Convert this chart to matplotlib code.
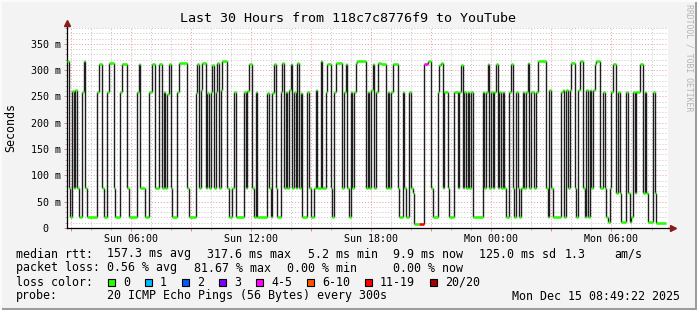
"""
Smokeping style latency graph: last 30 hours, median rtt with loss colours.
"""

import datetime as dt

import matplotlib
matplotlib.use("Agg")
import matplotlib.pyplot as plt
import matplotlib.dates as mdates
import matplotlib.ticker as mticker
from matplotlib.patches import Rectangle
from matplotlib.lines import Line2D

START = dt.datetime(2025, 12, 14, 2, 49, 22)
SPAN_HOURS = 30
LAST_MIN = 1795

# (minutes after START, new median rtt in ms) - one list per 5 hour block
block1 = [(0, 317), (5, 76), (10, 21), (15, 260), (20, 76), (25, 262), (30, 76),
          (35, 21), (45, 258), (50, 317), (55, 76), (60, 21), (90, 258), (95, 311),
          (105, 76), (110, 21), (120, 258), (125, 314), (140, 76), (145, 21),
          (160, 258), (165, 312), (180, 76), (185, 21), (210, 258), (215, 311),
          (220, 76), (235, 21), (245, 258), (255, 311), (265, 76), (275, 311),
          (285, 76)]
block2 = [(290, 258), (295, 76), (300, 255), (305, 311), (310, 76), (315, 21),
          (330, 258), (335, 314), (360, 76), (365, 21), (385, 256), (390, 311),
          (395, 76), (400, 262), (405, 314), (415, 76), (420, 256), (425, 76),
          (430, 258), (435, 310), (440, 76), (445, 258), (450, 314), (455, 76),
          (460, 262), (465, 317), (480, 76), (485, 21), (495, 76), (500, 258),
          (505, 21), (530, 258), (535, 76), (540, 260), (545, 311), (555, 76),
          (560, 21), (565, 258), (570, 21)]
block3 = [(600, 256), (605, 76), (610, 21), (615, 256), (620, 311), (625, 76),
          (630, 21), (640, 258), (645, 314), (650, 76), (655, 258), (660, 76),
          (665, 262), (670, 311), (675, 76), (680, 258), (685, 76), (690, 314),
          (695, 76), (700, 256), (705, 21), (720, 258), (725, 76), (730, 21),
          (740, 76), (745, 262), (750, 76), (760, 317), (765, 76), (775, 258),
          (780, 311), (790, 76), (795, 21), (800, 258), (805, 314), (825, 76),
          (830, 258), (835, 311), (840, 76), (845, 21), (850, 258), (855, 76),
          (860, 258), (865, 314), (870, 317)]
block4 = [(895, 76), (900, 258), (905, 76), (910, 262), (915, 311), (920, 76),
          (925, 258), (930, 314), (940, 312), (955, 76), (960, 258), (965, 76),
          (970, 258), (975, 311), (990, 76), (995, 21), (1005, 258), (1010, 76),
          (1015, 21), (1025, 258), (1030, 76), (1035, 66), (1040, 8), (1055, 7),
          (1070, 311), (1080, 317), (1090, 76), (1095, 21), (1110, 258),
          (1115, 310), (1120, 314), (1125, 76), (1130, 258), (1140, 76),
          (1145, 21), (1160, 258), (1170, 76), (1175, 258), (1180, 310),
          (1185, 76)]
block5 = [(1190, 258), (1195, 76), (1200, 258), (1205, 76), (1210, 258),
          (1215, 21), (1245, 258), (1250, 76), (1255, 258), (1260, 311),
          (1265, 76), (1270, 258), (1275, 76), (1280, 258), (1285, 311),
          (1290, 76), (1295, 258), (1300, 76), (1305, 258), (1310, 76),
          (1315, 21), (1325, 258), (1330, 311), (1335, 76), (1340, 21),
          (1345, 258), (1350, 76), (1355, 21), (1360, 76), (1365, 258),
          (1370, 76), (1375, 258), (1380, 314), (1385, 76), (1390, 258),
          (1400, 76), (1405, 258), (1410, 317), (1435, 76), (1440, 21),
          (1445, 262), (1450, 76), (1455, 21), (1480, 258), (1485, 262)]
block6 = [(1490, 21), (1495, 262), (1500, 76), (1505, 262), (1510, 314),
          (1520, 76), (1525, 21), (1530, 262), (1535, 317), (1545, 76),
          (1550, 21), (1555, 262), (1560, 21), (1565, 262), (1570, 76),
          (1575, 262), (1580, 312), (1585, 317), (1595, 76), (1605, 258),
          (1610, 76), (1615, 21), (1620, 12), (1625, 76), (1630, 258),
          (1635, 311), (1645, 66), (1650, 258), (1655, 66), (1660, 12),
          (1675, 258), (1680, 66), (1685, 12), (1690, 21), (1695, 258),
          (1700, 66), (1705, 258), (1715, 311), (1725, 66), (1730, 258),
          (1735, 66), (1740, 12), (1755, 258), (1760, 66), (1765, 10)]

# samples that lost pings (minute after START, lost pings out of 20)
loss_min = [1055, 1070]
loss_pings = [16, 4]

loss_labels = ["0", "1", "2", "3", "4-5", "6-10", "11-19", "20/20"]
loss_upper = [0, 1, 2, 3, 5, 10, 19, 20]
loss_colors = ["#26ff00", "#00b8ff", "#0059ff", "#7e00ff",
               "#ff00ff", "#ff5500", "#ff0000", "#a10000"]

rtt_avg, rtt_max, rtt_min, rtt_now, rtt_sd, rtt_ams = 157.3, 317.6, 5.2, 9.9, 125.0, 1.3
loss_avg, loss_max, loss_min_pct, loss_now = 0.56, 81.67, 0.00, 0.00

MONO = "DejaVu Sans Mono"
W, H = 697, 310


def fx(px):
    return px / W


def fy(py):
    return 1 - py / H


def loss_color(pings):
    for upper, col in zip(loss_upper, loss_colors):
        if pings <= upper:
            return col
    return loss_colors[-1]


steps = block1 + block2 + block3 + block4 + block5 + block6
change_min = [s[0] for s in steps]
median_ms = [s[1] for s in steps]

fig = plt.figure(figsize=(W / 100, H / 100), dpi=100, facecolor="#f3f3f3")
ax = fig.add_axes([fx(67), fy(228), fx(601), 200 / H])
ax.set_facecolor("white")

# median line: black verticals, loss-coloured horizontals
times = [START + dt.timedelta(minutes=m) for m in change_min]
ends = times[1:] + [START + dt.timedelta(minutes=LAST_MIN)]
seg_colors = []
for m in change_min:
    if m in loss_min:
        seg_colors.append(loss_color(loss_pings[loss_min.index(m)]))
    else:
        seg_colors.append(loss_colors[0])

ax.vlines(times[1:], median_ms[:-1], median_ms[1:], color="#1e1e1e", lw=1.0, zorder=3)
ax.hlines(median_ms, times, ends, colors=seg_colors, lw=1.9, zorder=4)

# axes / grid
ax.set_xlim(START, START + dt.timedelta(hours=SPAN_HOURS))
ax.set_ylim(0, 380)
ax.xaxis.set_major_locator(mdates.HourLocator(byhour=range(0, 24, 3)))
ax.xaxis.set_minor_locator(mdates.HourLocator())


def xfmt(x, pos):
    d = mdates.num2date(x)
    return d.strftime("%a %H:%M") if d.hour % 6 == 0 else ""


ax.xaxis.set_major_formatter(mticker.FuncFormatter(xfmt))
ax.yaxis.set_major_locator(mticker.MultipleLocator(50))
ax.yaxis.set_minor_locator(mticker.MultipleLocator(10))
ax.yaxis.set_major_formatter(mticker.FuncFormatter(
    lambda v, pos: "%d m" % v if v else "0  "))

ax.set_axisbelow(True)
ax.grid(which="minor", color="#c4c4c4", ls=(0, (1, 2)), lw=0.7)
ax.grid(which="major", color="#e89a9a", ls=(0, (1, 2)), lw=0.7)

for side in ["top", "right"]:
    ax.spines[side].set_visible(False)
for side in ["left", "bottom"]:
    ax.spines[side].set_color("black")
    ax.spines[side].set_linewidth(0.9)

ax.tick_params(which="major", length=2.5, width=0.7, color="#e08080",
               labelsize=7.2, pad=1.5)
ax.tick_params(which="minor", length=1.5, width=0.7, color="#b0b0b0")
for lab in ax.get_xticklabels() + ax.get_yticklabels():
    lab.set_fontfamily(MONO)

# axis arrows
ax.plot([0, 0], [1.0, 1.025], color="black", lw=0.9,
        transform=ax.transAxes, clip_on=False)
ax.plot([0], [1.025], marker="^", ms=4.5, color="#8b1a1a",
        transform=ax.transAxes, clip_on=False)
ax.plot([1.0, 1.008], [0, 0], color="black", lw=0.9,
        transform=ax.transAxes, clip_on=False)
ax.plot([1.008], [0], marker=">", ms=4.5, color="#8b1a1a",
        transform=ax.transAxes, clip_on=False)

# titles
fig.text(fx(348), fy(19), "Last 30 Hours from 118c7c8776f9 to YouTube",
         fontfamily=MONO, fontsize=9.6, ha="center", va="center")
fig.text(fx(11), fy(128), "Seconds", fontfamily=MONO, fontsize=8.4,
         rotation=90, ha="center", va="center")
fig.text(fx(689), fy(4), "RRDTOOL / TOBI OETIKER", fontfamily=MONO,
         fontsize=5.9, color="#b4b4b4", rotation=270, ha="center", va="top")

# legend rows
row_y = [254, 268, 282, 296]
row1 = [("median rtt:", 16), ("%.1f ms avg" % rtt_avg, 107),
        ("%.1f ms max" % rtt_max, 207), ("%.1f ms min" % rtt_min, 308),
        ("%.1f ms now" % rtt_now, 393), ("%.1f ms sd" % rtt_sd, 479),
        ("%.1f" % rtt_ams, 565), ("am/s", 614)]
row2 = [("packet loss:", 16), ("%.2f %% avg" % loss_avg, 107),
        ("%.2f %% max" % loss_max, 194), ("%.2f %% min" % loss_min_pct, 287),
        ("%.2f %% now" % loss_now, 393)]
for y, row in zip(row_y[:2], [row1, row2]):
    for txt, x in row:
        fig.text(fx(x), fy(y), txt, fontfamily=MONO, fontsize=8.4,
                 ha="left", va="center")

fig.text(fx(16), fy(row_y[2]), "loss color:", fontfamily=MONO, fontsize=8.4,
         ha="left", va="center")
x = 108
for lab, col in zip(loss_labels, loss_colors):
    fig.add_artist(Rectangle((fx(x), fy(row_y[2] + 3.5)), fx(7), 7 / H,
                             facecolor=col, edgecolor="black", lw=0.8,
                             transform=fig.transFigure))
    fig.text(fx(x + 15), fy(row_y[2]), lab, fontfamily=MONO, fontsize=8.4,
             ha="left", va="center")
    x = x + 15 + 7 * len(lab) + 15

fig.text(fx(16), fy(row_y[3]), "probe:", fontfamily=MONO, fontsize=8.4,
         ha="left", va="center")
fig.text(fx(107), fy(row_y[3]), "20 ICMP Echo Pings (56 Bytes) every 300s",
         fontfamily=MONO, fontsize=8.4, ha="left", va="center")
fig.text(fx(680), fy(row_y[3]), "Mon Dec 15 08:49:22 2025",
         fontfamily=MONO, fontsize=8.4, ha="right", va="center")

# frame shading
fig.add_artist(Line2D([fx(695.5), fx(695.5)], [0, 1], color="#9c9c9c", lw=2.2,
                      transform=fig.transFigure))
fig.add_artist(Line2D([0, 1], [fy(308.5), fy(308.5)], color="#9c9c9c", lw=2.2,
                      transform=fig.transFigure))
fig.add_artist(Line2D([fx(0.5), fx(0.5)], [0, 1], color="#fcfcfc", lw=1.4,
                      transform=fig.transFigure))
fig.add_artist(Line2D([0, 1], [fy(0.5), fy(0.5)], color="#fcfcfc", lw=1.4,
                      transform=fig.transFigure))

fig.savefig("out.png", dpi=100, facecolor=fig.get_facecolor())
